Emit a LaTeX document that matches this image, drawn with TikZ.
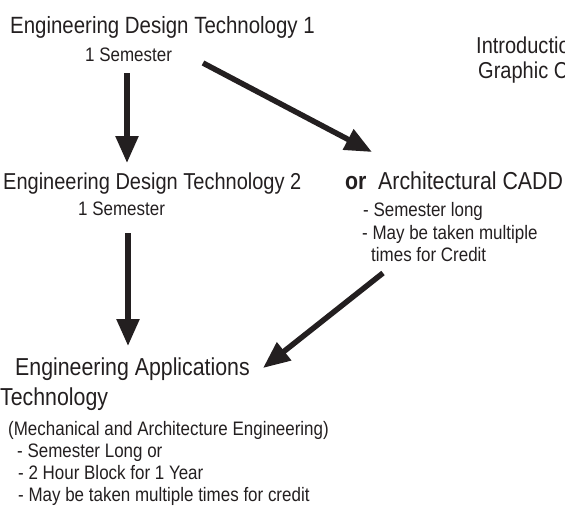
\documentclass[tikz,border=0pt]{standalone}
\usepackage{fontspec}
\setmainfont[FakeStretch=0.87]{Liberation Sans}
\usetikzlibrary{arrows.meta}
\definecolor{ink}{HTML}{231F20}
\tikzset{
  big/.style={anchor=base west, inner sep=0pt, text=ink, font=\fontsize{23}{26}\selectfont},
  bigger/.style={anchor=base west, inner sep=0pt, text=ink, font=\fontsize{24.5}{28}\selectfont},
  small/.style={anchor=base west, inner sep=0pt, text=ink, font=\fontsize{19.5}{22}\selectfont},
  fat/.style={draw=ink, line width=5.5pt, -{Triangle[length=27pt,width=22pt]}},
}
\begin{document}
\begin{tikzpicture}[x=1pt,y=1pt]
\useasboundingbox (0,0) rectangle (565,-515);
% top
\node[big, font=\fontsize{23.5}{26}\selectfont] (edt1) at (10,-33) {Engineering Design Technology 1};
\node[small] (sem1) at (85,-61) {1 Semester};
\node[big] (intro) at (476,-53) {Introductio};
\node[big] (graph) at (478,-78) {Graphic C};
% middle
\node[big] (edt2) at (3,-189) {Engineering Design Technology 2};
\node[small] (sem2) at (78,-215) {1 Semester};
\node[bigger] (or) at (345,-189) {\bfseries or};
\node[bigger] (cadd) at (378,-189) {Architectural CADD};
\node[small] (c1) at (363,-216) {- Semester long};
\node[small] (c2) at (362,-239) {- May be taken multiple};
\node[small] (c3) at (371,-261) {times for Credit};
% bottom
\node[bigger] (eat) at (15,-375) {Engineering Applications};
\node[bigger] (tech) at (0,-405) {Technology};
\node[small] (m0) at (8,-435) {(Mechanical and Architecture Engineering)};
\node[small] (m1) at (17,-457) {- Semester Long or};
\node[small] (m2) at (18,-479) {- 2 Hour Block for 1 Year};
\node[small] (m3) at (18,-501) {- May be taken multiple times for credit};
% arrow ends
\coordinate (a1s) at (127,-73);
\coordinate (a1e) at (127,-163);
\coordinate (a2s) at (203,-63);
\coordinate (a2e) at (372,-152);
\coordinate (a3s) at (128,-233);
\coordinate (a3e) at (128,-346);
\coordinate (a4s) at (383,-273);
\coordinate (a4e) at (263,-368);
\draw[fat] (a1s) -- (a1e);
\draw[fat] (a2s) -- (a2e);
\draw[fat] (a3s) -- (a3e);
\draw[fat] (a4s) -- (a4e);
\end{tikzpicture}
\end{document}
